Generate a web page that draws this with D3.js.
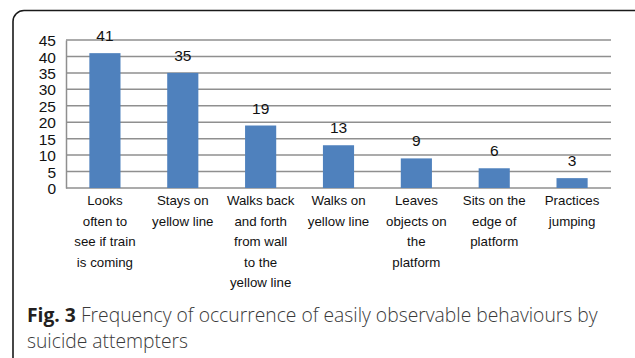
<!DOCTYPE html>
<html>
<head>
<meta charset="utf-8">
<script src="https://cdn.jsdelivr.net/npm/d3@7"></script>
<style>
  html, body { margin: 0; padding: 0; background: #fff; }
  svg { display: block; }
</style>
</head>
<body>
<svg id="chart" width="635" height="358"></svg>
<script>
// Behaviours observed before suicide attempts, with their frequencies.
const categories = [
  "Looks\noften to\nsee if train\nis coming",
  "Stays on\nyellow line",
  "Walks back\nand forth\nfrom wall\nto the\nyellow line",
  "Walks on\nyellow line",
  "Leaves\nobjects on\nthe\nplatform",
  "Sits on the\nedge of\nplatform",
  "Practices\njumping"
];
const frequencies = [41, 35, 19, 13, 9, 6, 3];
const yTicks = [0, 5, 10, 15, 20, 25, 30, 35, 40, 45];
const captionBold = "Fig. 3";
const captionLines = [
  " Frequency of occurrence of easily observable behaviours by",
  "suicide attempters"
];

const svg = d3.select("#chart");

// Rounded frame around the figure
svg.append("rect")
  .attr("x", 13).attr("y", 10.5)
  .attr("width", 640).attr("height", 400)
  .attr("rx", 11).attr("ry", 11)
  .attr("fill", "none")
  .attr("stroke", "#1a1a1a")
  .attr("stroke-width", 1.6);

const plot = { left: 66, right: 611, top: 40, bottom: 188 };

const x = d3.scaleBand()
  .domain(d3.range(categories.length))
  .range([plot.left, plot.right])
  .paddingInner(0.6)
  .paddingOuter(0.3);

const y = d3.scaleLinear()
  .domain([0, 45])
  .range([plot.bottom, plot.top]);

// Horizontal gridlines
svg.append("g")
  .selectAll("line")
  .data(yTicks)
  .join("line")
  .attr("x1", plot.left).attr("x2", plot.right)
  .attr("y1", d => y(d)).attr("y2", d => y(d))
  .attr("stroke", "#8f8f8f")
  .attr("stroke-width", 1.5);

// Value axis
const yAxis = svg.append("g")
  .attr("transform", `translate(${plot.left},0)`)
  .call(d3.axisLeft(y).tickValues(yTicks).tickSize(0).tickPadding(10));
yAxis.select(".domain")
  .attr("stroke", "#8f8f8f")
  .attr("stroke-width", 1.5);
yAxis.selectAll("text")
  .attr("font-family", "Liberation Sans, Arial, sans-serif")
  .attr("font-size", 15.5)
  .attr("fill", "#111")
  .attr("dy", "0.36em");

// Bars
svg.append("g")
  .selectAll("rect")
  .data(frequencies)
  .join("rect")
  .attr("x", (d, i) => x(i))
  .attr("width", x.bandwidth())
  .attr("y", d => y(d))
  .attr("height", d => y(0) - y(d))
  .attr("fill", "#4f81bd");

// Value labels above bars
svg.append("g")
  .selectAll("text")
  .data(frequencies)
  .join("text")
  .attr("x", (d, i) => x(i) + x.bandwidth() / 2)
  .attr("y", d => y(d) - 12)
  .attr("text-anchor", "middle")
  .attr("font-family", "Liberation Sans, Arial, sans-serif")
  .attr("font-size", 15.5)
  .attr("fill", "#111")
  .text(d => d);

// Category labels, one tspan per line
const catLabels = svg.append("g")
  .selectAll("text")
  .data(categories)
  .join("text")
  .attr("text-anchor", "middle")
  .attr("font-family", "Liberation Sans, Arial, sans-serif")
  .attr("font-size", 13.3)
  .attr("fill", "#111");
catLabels.each(function(d, i) {
  const cx = x(i) + x.bandwidth() / 2;
  d3.select(this).selectAll("tspan")
    .data(d.split("\n"))
    .join("tspan")
    .attr("x", cx)
    .attr("y", (line, j) => 205 + j * 20.5)
    .text(line => line);
});

// Figure caption
const cap = svg.append("g")
  .attr("font-family", "Open Sans, Noto Sans, sans-serif")
  .attr("font-size", 19.3);
const cap1 = cap.append("text").attr("x", 27).attr("y", 322);
cap1.append("tspan")
  .attr("font-weight", "bold")
  .attr("fill", "#231f20")
  .text(captionBold);
cap1.append("tspan")
  .attr("font-weight", 300)
  .attr("fill", "#3a3a3a")
  .text(captionLines[0]);
cap.append("text")
  .attr("x", 27).attr("y", 348)
  .attr("font-weight", 300)
  .attr("fill", "#3a3a3a")
  .text(captionLines[1]);
</script>
</body>
</html>
